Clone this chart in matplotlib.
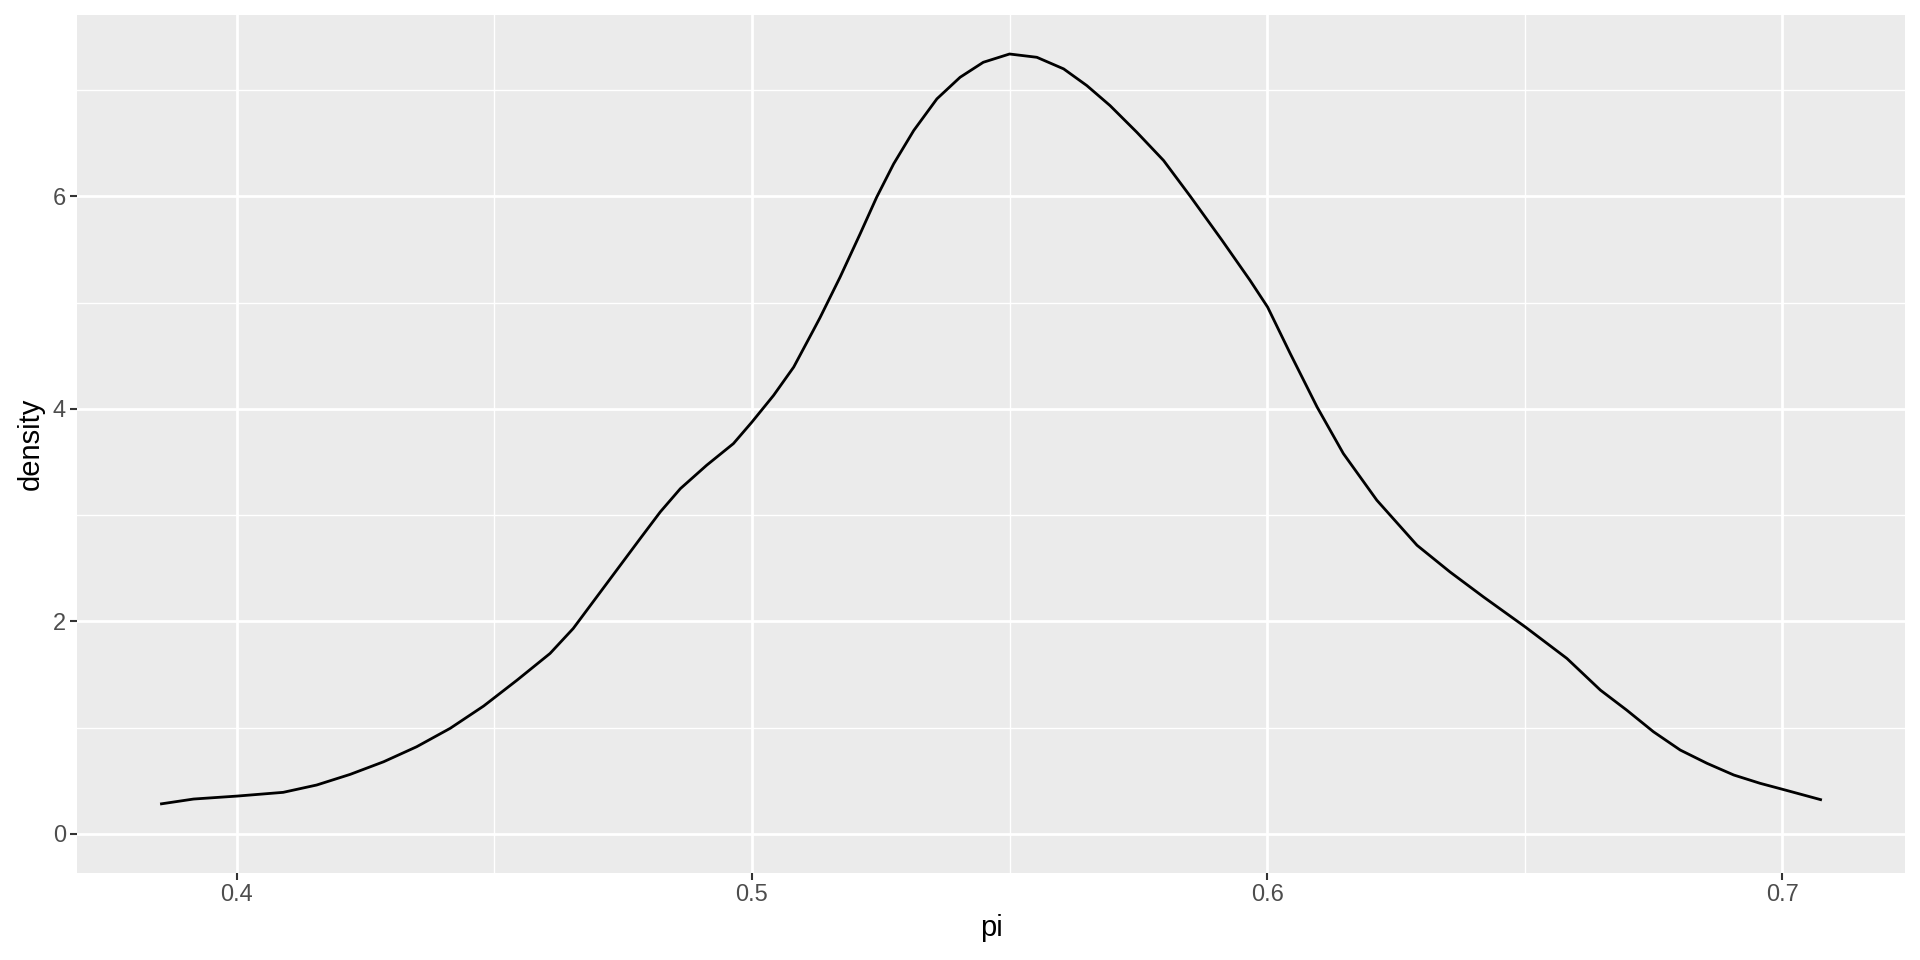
import matplotlib.pyplot as plt
import numpy as np

plt.rcParams['font.family'] = ['Liberation Sans', 'DejaVu Sans']

# density curve
pi_vals = [0.3851, 0.3916, 0.4001, 0.4090, 0.4155, 0.4220, 0.4285, 0.4349,
           0.4414, 0.4479, 0.4544, 0.4608, 0.4653, 0.4718, 0.4783, 0.4822,
           0.4861, 0.4912, 0.4964, 0.5000, 0.5042, 0.5081, 0.5119, 0.5132,
           0.5171, 0.5210, 0.5242, 0.5275, 0.5314, 0.5359, 0.5404, 0.5449,
           0.5500, 0.5553, 0.5605, 0.5650, 0.5695, 0.5747, 0.5799, 0.5851,
           0.5912, 0.5967, 0.6001, 0.6045, 0.6097, 0.6148, 0.6213, 0.6291,
           0.6355, 0.6420, 0.6501, 0.6582, 0.6647, 0.6698, 0.6750, 0.6802,
           0.6854, 0.6906, 0.6957, 0.7001, 0.7077]
density = [0.282, 0.329, 0.357, 0.392, 0.461, 0.561, 0.680, 0.821,
           0.994, 1.204, 1.448, 1.699, 1.934, 2.357, 2.780, 3.031,
           3.250, 3.470, 3.674, 3.877, 4.128, 4.394, 4.739, 4.858,
           5.240, 5.648, 5.992, 6.306, 6.620, 6.918, 7.121, 7.262,
           7.340, 7.309, 7.200, 7.043, 6.855, 6.604, 6.338, 6.000,
           5.590, 5.209, 4.958, 4.520, 4.018, 3.580, 3.141, 2.717,
           2.466, 2.231, 1.949, 1.652, 1.354, 1.166, 0.962, 0.790,
           0.665, 0.555, 0.477, 0.420, 0.320]

x_major = [0.4, 0.5, 0.6, 0.7]
x_minor = [0.45, 0.55, 0.65]
y_major = [0, 2, 4, 6]
y_minor = [1, 3, 5, 7]

fig = plt.figure(figsize=(19.2, 9.6), dpi=100)
ax = fig.add_axes([77 / 1920, 1 - 873 / 960, (1905 - 77) / 1920, (873 - 15) / 960])
ax.set_facecolor('#EBEBEB')

# ggplot-style 5% expansion
xr = max(pi_vals) - min(pi_vals)
ax.set_xlim(min(pi_vals) - 0.05 * xr, max(pi_vals) + 0.05 * xr)
ymax = max(density)
ax.set_ylim(-0.05 * ymax, 1.05 * ymax)

for v in x_minor:
    ax.axvline(v, color='white', lw=1.0, zorder=1)
for v in y_minor:
    ax.axhline(v, color='white', lw=1.0, zorder=1)
for v in x_major:
    ax.axvline(v, color='white', lw=2.0, zorder=1)
for v in y_major:
    ax.axhline(v, color='white', lw=2.0, zorder=1)

ax.plot(pi_vals, density, color='black', lw=2.0, zorder=3,
        solid_capstyle='butt', solid_joinstyle='round')

ax.set_xticks(x_major)
ax.set_xticklabels(['0.4', '0.5', '0.6', '0.7'])
ax.set_yticks(y_major)
ax.set_yticklabels(['0', '2', '4', '6'])
ax.tick_params(axis='both', length=5, width=1.5, color='#333333',
               labelcolor='#4D4D4D', labelsize=17, pad=3)

for s in ax.spines.values():
    s.set_visible(False)

ax.set_xlabel('pi', fontsize=21, color='black', labelpad=6)
ax.set_ylabel('density', fontsize=21, color='black', labelpad=6)

fig.savefig('out.png', dpi=100, facecolor='white')
